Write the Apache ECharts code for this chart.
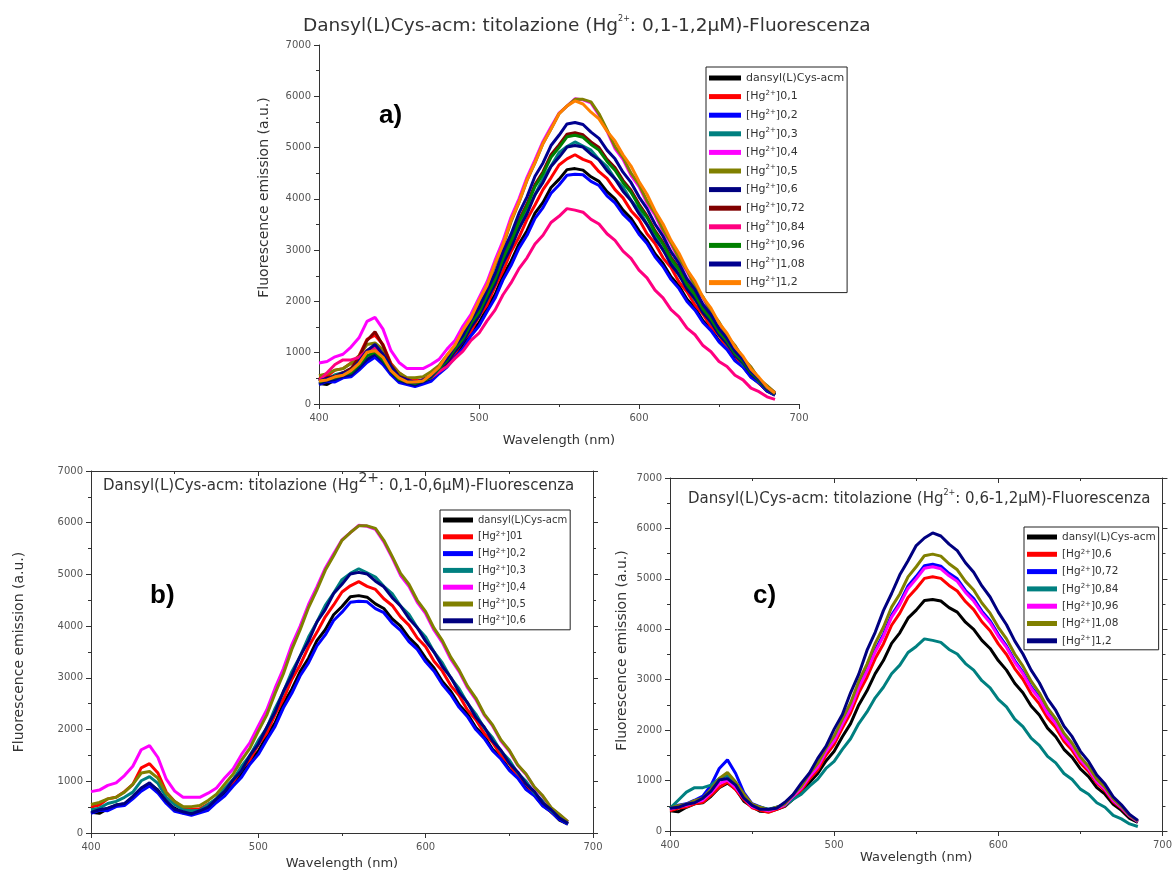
<!DOCTYPE html>
<html>
<head>
<meta charset="utf-8">
<title>Dansyl(L)Cys-acm: titolazione Hg2+ - Fluorescenza</title>
<script src="https://cdn.jsdelivr.net/npm/echarts@6/dist/echarts.min.js"></script>
<style>
    html, body { margin: 0; padding: 0; background: #fff; }
    #chart { width: 1175px; height: 873px; }
</style>
</head>
<body>
<div id="chart"></div>
<script>
// lunghezza d'onda (nm), passo 5 nm
var wavelength = [400, 405, 410, 415, 420, 425, 430, 435, 440, 445, 450, 455, 460, 465, 470,
    475, 480, 485, 490, 495, 500, 505, 510, 515, 520, 525, 530, 535, 540, 545,
    550, 555, 560, 565, 570, 575, 580, 585, 590, 595, 600, 605, 610, 615, 620,
    625, 630, 635, 640, 645, 650, 655, 660, 665, 670, 675, 680, 685];

// spettri di emissione (a.u.)
var dansyl = [400, 380, 470, 540, 560, 690, 860, 950, 830, 590, 480, 390, 380, 430, 490,
    630, 770, 960, 1140, 1390, 1580, 1870, 2130, 2500, 2780, 3120, 3380, 3720, 3930, 4220,
    4380, 4570, 4590, 4560, 4430, 4340, 4140, 4000, 3780, 3620, 3380, 3190, 2930, 2740, 2480,
    2300, 2040, 1870, 1620, 1460, 1230, 1080, 860, 730, 530, 410, 250, 170];
var hg010 = [500, 540, 660, 690, 800, 940, 1260, 1340, 1160, 790, 610, 490, 460, 470, 560,
    640, 840, 990, 1230, 1420, 1710, 1930, 2290, 2590, 2970, 3250, 3600, 3880, 4180, 4410,
    4660, 4780, 4860, 4770, 4710, 4530, 4400, 4180, 4020, 3770, 3600, 3320, 3130, 2850, 2660,
    2380, 2190, 1930, 1750, 1500, 1340, 1100, 950, 730, 590, 400, 290, 180];
var hg020 = [380, 440, 430, 510, 530, 660, 810, 910, 770, 570, 420, 380, 340, 390, 440,
    590, 720, 910, 1080, 1330, 1520, 1800, 2060, 2420, 2700, 3040, 3290, 3620, 3830, 4110,
    4270, 4460, 4480, 4470, 4340, 4260, 4060, 3920, 3700, 3550, 3310, 3130, 2870, 2680, 2430,
    2250, 2000, 1830, 1590, 1430, 1210, 1060, 840, 720, 520, 410, 260, 170];
var hg030 = [450, 480, 570, 610, 690, 790, 1010, 1090, 960, 690, 550, 450, 430, 440, 550,
    670, 870, 1040, 1290, 1500, 1790, 2030, 2410, 2730, 3120, 3420, 3790, 4080, 4400, 4640,
    4900, 5020, 5110, 5030, 4950, 4770, 4630, 4390, 4230, 3970, 3790, 3500, 3290, 3000, 2790,
    2510, 2300, 2030, 1840, 1580, 1410, 1160, 1000, 770, 620, 430, 310, 190];
var hg040 = [800, 830, 920, 970, 1110, 1290, 1610, 1690, 1460, 1040, 810, 690, 690, 690, 770,
    870, 1070, 1240, 1520, 1750, 2070, 2380, 2800, 3180, 3640, 4000, 4420, 4760, 5120, 5400,
    5670, 5810, 5950, 5930, 5870, 5630, 5320, 4980, 4770, 4460, 4240, 3920, 3680, 3360, 3120,
    2810, 2580, 2280, 2070, 1780, 1580, 1310, 1130, 880, 710, 480, 350, 220];
var hg050 = [550, 590, 660, 690, 790, 940, 1160, 1190, 1060, 770, 610, 510, 510, 530, 630,
    750, 950, 1140, 1410, 1640, 1970, 2280, 2700, 3080, 3550, 3930, 4360, 4700, 5080, 5360,
    5660, 5810, 5940, 5940, 5890, 5660, 5350, 5020, 4810, 4500, 4280, 3960, 3720, 3400, 3150,
    2840, 2610, 2300, 2090, 1800, 1600, 1320, 1140, 890, 720, 490, 360, 220];
var hg060 = [400, 450, 480, 540, 570, 710, 870, 970, 820, 620, 460, 410, 370, 430, 500,
    660, 810, 1030, 1210, 1500, 1720, 2040, 2340, 2740, 3050, 3420, 3710, 4080, 4320, 4630,
    4810, 5010, 5040, 5010, 4870, 4760, 4550, 4390, 4150, 3970, 3710, 3500, 3220, 3010, 2720,
    2520, 2240, 2050, 1780, 1600, 1350, 1180, 950, 800, 580, 450, 290, 190];
var hg072 = [450, 510, 540, 610, 690, 910, 1240, 1410, 1140, 760, 540, 480, 420, 470, 540,
    710, 870, 1100, 1290, 1590, 1820, 2150, 2460, 2880, 3210, 3590, 3900, 4280, 4530, 4860,
    5050, 5260, 5290, 5250, 5110, 5000, 4770, 4610, 4360, 4170, 3900, 3670, 3380, 3150, 2860,
    2650, 2350, 2150, 1870, 1680, 1420, 1240, 990, 840, 610, 470, 300, 190];
var hg084 = [450, 610, 770, 860, 860, 910, 1040, 1110, 940, 710, 510, 470, 430, 470, 510,
    630, 730, 890, 1030, 1240, 1380, 1620, 1830, 2130, 2360, 2640, 2850, 3120, 3290, 3540,
    3660, 3810, 3780, 3740, 3600, 3510, 3320, 3190, 2980, 2840, 2610, 2460, 2220, 2070, 1840,
    1700, 1480, 1350, 1140, 1020, 830, 730, 560, 470, 310, 240, 140, 90];
var hg096 = [430, 480, 510, 570, 610, 760, 940, 1010, 860, 650, 480, 440, 400, 450, 520,
    690, 850, 1080, 1270, 1570, 1790, 2120, 2430, 2840, 3170, 3550, 3860, 4240, 4490, 4810,
    5000, 5210, 5240, 5200, 5060, 4950, 4730, 4560, 4320, 4130, 3860, 3640, 3350, 3120, 2830,
    2620, 2330, 2130, 1850, 1660, 1410, 1230, 980, 830, 610, 470, 300, 190];
var hg108 = [450, 500, 530, 600, 650, 830, 1040, 1160, 970, 730, 530, 470, 420, 470, 540,
    720, 890, 1140, 1340, 1640, 1880, 2220, 2540, 2970, 3310, 3720, 4040, 4440, 4700, 5040,
    5240, 5460, 5490, 5450, 5300, 5180, 4950, 4780, 4520, 4320, 4040, 3810, 3510, 3270, 2970,
    2740, 2440, 2230, 1940, 1740, 1470, 1280, 1030, 870, 640, 490, 310, 200];
var hg120 = [450, 470, 530, 560, 650, 790, 1010, 1040, 910, 650, 510, 430, 430, 450, 570,
    720, 950, 1150, 1440, 1680, 2020, 2310, 2740, 3110, 3580, 3940, 4370, 4710, 5080, 5360,
    5660, 5810, 5910, 5850, 5690, 5560, 5320, 5130, 4860, 4640, 4340, 4090, 3770, 3510, 3190,
    2940, 2620, 2390, 2080, 1870, 1580, 1380, 1110, 930, 680, 520, 330, 210];

// pannelli: [nome (prefisso di 2 caratteri), dati, colore]
var panelA = [
    ['a:dansyl(L)Cys-acm', dansyl, '#000000'],
    ['a:[Hg2+]0,1', hg010, '#ff0000'],
    ['a:[Hg2+]0,2', hg020, '#0000ff'],
    ['a:[Hg2+]0,3', hg030, '#008080'],
    ['a:[Hg2+]0,4', hg040, '#ff00ff'],
    ['a:[Hg2+]0,5', hg050, '#808000'],
    ['a:[Hg2+]0,6', hg060, '#000080'],
    ['a:[Hg2+]0,72', hg072, '#800000'],
    ['a:[Hg2+]0,84', hg084, '#ff0080'],
    ['a:[Hg2+]0,96', hg096, '#008000'],
    ['a:[Hg2+]1,08', hg108, '#000090'],
    ['a:[Hg2+]1,2', hg120, '#ff8000']
];
var panelB = [
    ['b:dansyl(L)Cys-acm', dansyl, '#000000'],
    ['b:[Hg2+]01', hg010, '#ff0000'],
    ['b:[Hg2+]0,2', hg020, '#0000ff'],
    ['b:[Hg2+]0,3', hg030, '#008080'],
    ['b:[Hg2+]0,4', hg040, '#ff00ff'],
    ['b:[Hg2+]0,5', hg050, '#808000'],
    ['b:[Hg2+]0,6', hg060, '#000080']
];
var panelC = [
    ['c:dansyl(L)Cys-acm', dansyl, '#000000'],
    ['c:[Hg2+]0,6', hg060, '#ff0000'],
    ['c:[Hg2+]0,72', hg072, '#0000ff'],
    ['c:[Hg2+]0,84', hg084, '#008080'],
    ['c:[Hg2+]0,96', hg096, '#ff00ff'],
    ['c:[Hg2+]1,08', hg108, '#808000'],
    ['c:[Hg2+]1,2', hg120, '#000080']
];

var FONT = 'DejaVu Sans, sans-serif';
var chart = echarts.init(document.getElementById('chart'));

function richName(n) {
    return n.slice(2).replace('2+', '{s|2+}');
}

function buildSeries(list, xi, yi) {
    return list.map(function (s) {
        return {
            name: s[0],
            type: 'line',
            xAxisIndex: xi,
            yAxisIndex: yi,
            data: wavelength.map(function (w, i) { return [w, s[1][i]]; }),
            showSymbol: false,
            symbol: 'none',
            lineStyle: { width: 3, color: s[2] },
            itemStyle: { color: s[2] }
        };
    });
}

function legendFor(list, left, top, fontSize, lineHeight, gap, itemWidth) {
    return {
        orient: 'vertical',
        left: left,
        top: top,
        data: list.map(function (s) { return s[0]; }),
        formatter: richName,
        selectedMode: false,
        icon: 'rect',
        itemWidth: itemWidth,
        itemHeight: 5,
        itemGap: gap,
        padding: [4, 3, 3, 3],
        borderColor: '#222',
        borderWidth: 1,
        textStyle: {
            fontFamily: FONT, fontSize: fontSize, color: '#333', lineHeight: lineHeight,
            rich: { s: { fontFamily: FONT, fontSize: 7, color: '#333', verticalAlign: 'top' } }
        }
    };
}

function plainNum(v) { return String(v); }

function xAxisFor(gi, nameGap) {
    return {
        gridIndex: gi, type: 'value', min: 400, max: 700, interval: 100,
        position: 'bottom',
        axisLine: { show: true, onZero: false, lineStyle: { color: '#333' } },
        axisTick: { show: true, length: 5, lineStyle: { color: '#333' } },
        minorTick: { show: true, splitNumber: 2, length: 3, lineStyle: { color: '#333' } },
        splitLine: { show: false },
        axisLabel: { fontFamily: FONT, fontSize: 10, color: '#555', margin: 9, formatter: plainNum },
        name: 'Wavelength (nm)', nameLocation: 'middle', nameGap: nameGap,
        nameTextStyle: { fontFamily: FONT, fontSize: 13, color: '#333' }
    };
}

function yAxisFor(gi, nameGap, pad) {
    return {
        gridIndex: gi, type: 'value', min: 0, max: 7000, interval: 1000,
        position: 'left',
        axisLine: { show: true, onZero: false, lineStyle: { color: '#333' } },
        axisTick: { show: true, length: 5, lineStyle: { color: '#333' } },
        minorTick: { show: true, splitNumber: 2, length: 3, lineStyle: { color: '#333' } },
        splitLine: { show: false },
        axisLabel: { fontFamily: FONT, fontSize: 10, color: '#555', margin: 8, formatter: plainNum },
        name: 'Fluorescence emission (a.u.)', nameLocation: 'middle', nameGap: nameGap,
        nameTextStyle: { fontFamily: FONT, fontSize: 14, color: '#333', padding: pad }
    };
}

// assi secondari (cornice) per i pannelli b e c
function frameAxis(gi, isX) {
    return {
        gridIndex: gi, type: 'value',
        min: isX ? 400 : 0, max: isX ? 700 : 7000, interval: isX ? 100 : 1000,
        position: isX ? 'top' : 'right',
        axisLine: { show: true, onZero: false, lineStyle: { color: '#333' } },
        axisTick: { show: true, inside: isX, length: 5, lineStyle: { color: '#333' } },
        minorTick: { show: true, splitNumber: 2, length: 3, lineStyle: { color: '#333' } },
        splitLine: { show: false },
        axisLabel: { show: false }
    };
}

var option = {
    backgroundColor: '#fff',
    animation: false,
    title: [
        {
            text: 'Dansyl(L)Cys-acm: titolazione (Hg{s|2+}: 0,1-1,2\u03bcM)-Fluorescenza',
            left: 298, top: 10,
            textStyle: {
                fontFamily: FONT, fontSize: 18.5, fontWeight: 'normal', color: '#333', lineHeight: 22,
                rich: { s: { fontFamily: FONT, fontSize: 8, color: '#333', verticalAlign: 'top' } }
            }
        },
        {
            text: 'Dansyl(L)Cys-acm: titolazione (Hg{s|2+}: 0,1-0,6\u03bcM)-Fluorescenza',
            left: 98, top: 466,
            textStyle: {
                fontFamily: FONT, fontSize: 15, fontWeight: 'normal', color: '#333', lineHeight: 30,
                rich: { s: { fontFamily: FONT, fontSize: 14, color: '#333', verticalAlign: 'top' } }
            }
        },
        {
            text: 'Dansyl(L)Cys-acm: titolazione (Hg{s|2+}: 0,6-1,2\u03bcM)-Fluorescenza',
            left: 683, top: 484,
            textStyle: {
                fontFamily: FONT, fontSize: 15, fontWeight: 'normal', color: '#333', lineHeight: 20,
                rich: { s: { fontFamily: FONT, fontSize: 8, color: '#333', verticalAlign: 'top' } }
            }
        }
    ],
    legend: [
        legendFor(panelA, 706, 67, 11, 14, 4.6, 32),
        legendFor(panelB, 440, 510, 10, 12, 4.8, 30),
        legendFor(panelC, 1024, 527, 10.5, 12, 5.3, 30)
    ],
    grid: [
        { left: 319, top: 45, width: 480, height: 359 },
        { left: 91, top: 471, width: 502, height: 362 },
        { left: 670, top: 478, width: 498, height: 353 }
    ],
    xAxis: [
        xAxisFor(0, 30),
        xAxisFor(1, 24),
        frameAxis(1, true),
        xAxisFor(2, 18),
        frameAxis(2, true)
    ],
    yAxis: [
        yAxisFor(0, 48, [0, 0, 0, 54]),
        yAxisFor(1, 65, 0),
        frameAxis(1, false),
        yAxisFor(2, 41, [0, 0, 0, 8]),
        frameAxis(2, false)
    ],
    graphic: [
        { type: 'text', left: 379, top: 103, style: { text: 'a)', font: 'bold 26px Liberation Sans', fill: '#000' } },
        { type: 'text', left: 150, top: 583, style: { text: 'b)', font: 'bold 26px Liberation Sans', fill: '#000' } },
        { type: 'text', left: 753, top: 583, style: { text: 'c)', font: 'bold 26px Liberation Sans', fill: '#000' } }
    ],
    series: [].concat(
        buildSeries(panelA, 0, 0),
        buildSeries(panelB, 1, 1),
        buildSeries(panelC, 3, 3)
    )
};

chart.setOption(option);
</script>
</body>
</html>
